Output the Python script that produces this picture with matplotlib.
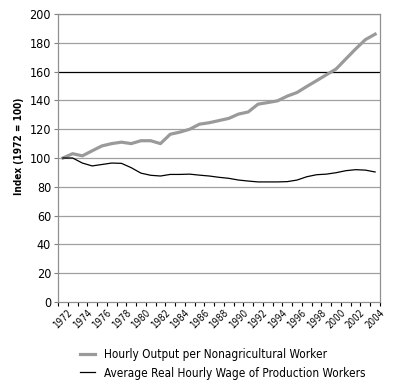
import numpy as np
import matplotlib.pyplot as plt

years = list(range(1972, 2005))
output = [100, 103, 101.5, 105, 108.4, 110, 111, 110, 112, 112, 110, 116.5, 118, 120,
          123.5, 124.5, 126, 127.5, 130.5, 132, 137.4, 138.5, 139.7, 143, 145.5, 149.7,
          153.7, 157.8, 161.8, 168.8, 175.7, 182.2, 186]
wage = [100, 100, 96.5, 94.5, 95.5, 96.5, 96.3, 93.3, 89.5, 88, 87.5, 88.6, 88.6, 88.8,
        88.1, 87.5, 86.6, 85.9, 84.7, 84, 83.4, 83.4, 83.4, 83.6, 84.7, 87, 88.4, 88.8,
        89.8, 91.2, 91.9, 91.6, 90.3]
labels = ['Hourly Output per Nonagricultural Worker',
          'Average Real Hourly Wage of Production Workers']

plt.rcParams['font.family'] = ['DejaVu Sans']
plt.rcParams['font.stretch'] = 'condensed'

fig = plt.figure(figsize=(4, 3.87), dpi=100)
ax = fig.add_axes([0.145, 0.2196, 0.805, 0.7442])

# grid lines (the 160 line is black in the original)
for v in range(20, 201, 20):
    ax.axhline(v, color='black' if v == 160 else '#a0a0a0', lw=0.9, zorder=1)

ax.plot(years, output, color='#9a9a9a', lw=2.3, label=labels[0], zorder=3)
ax.plot(years, wage, color='black', lw=0.9, label=labels[1], zorder=3)

ax.set_xlim(1971.5, 2004.5)
ax.set_ylim(0, 200)
ax.set_yticks(range(0, 201, 20))
ax.set_xticks(np.arange(1971.5, 2005, 1))
ax.set_xticklabels([])
ax.set_xticks(years[::2], minor=True)
ax.set_xticklabels([str(y) for y in years[::2]], minor=True, rotation=45, ha='center')
ax.tick_params(axis='x', which='major', length=3, width=0.8, color='black', direction='out')
ax.tick_params(axis='x', which='minor', length=0, pad=4, labelsize=7)
ax.tick_params(axis='y', length=3, width=0.8, color='#808080', labelsize=9, pad=2)

for s in ax.spines.values():
    s.set_color('#909090')
    s.set_linewidth(0.9)

ax.set_ylabel('Index (1972 = 100)', fontsize=7.2, fontweight='bold')
ax.yaxis.set_label_coords(-0.105, 0.54)

fig.legend(loc='upper left', bbox_to_anchor=(0.2, 0.1), frameon=False, fontsize=8.5,
           borderpad=0, borderaxespad=0, handlelength=1.25, handletextpad=0.75,
           labelspacing=0.45)

plt.savefig('out.png', dpi=100)
